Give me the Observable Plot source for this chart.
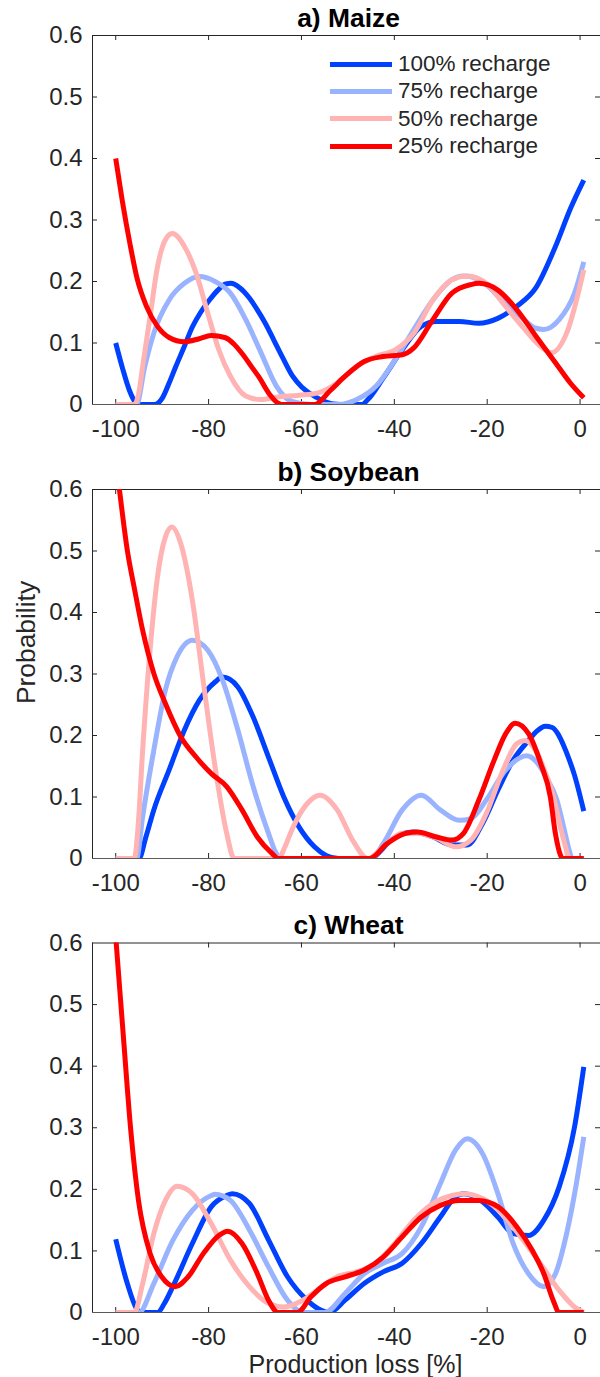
<!DOCTYPE html>
<html>
<head>
<meta charset="utf-8">
<script src="https://cdn.jsdelivr.net/npm/d3@7"></script>
<script src="https://cdn.jsdelivr.net/npm/@observablehq/plot@0.6"></script>
<style>
  body { margin: 0; background: #fff; }
  #wrap { position: relative; width: 600px; height: 1377px; overflow: hidden; background: #fff;
          font-family: "Liberation Sans", Arial, Helvetica, sans-serif; color: #262626; }
  .panel { position: absolute; left: 0; }
  .panel svg { display: block; }
  #legend { position: absolute; left: 330px; top: 50.5px; }
  #legend .row { height: 27.3px; display: flex; align-items: center; font-size: 22.5px; white-space: nowrap; }
  #legend .sw { display: inline-block; width: 62px; height: 5px; margin-right: 6px; }
</style>
</head>
<body>
<div id="wrap"></div>
<script>
// ---------- data ----------
const crops = ["a) Maize", "b) Soybean", "c) Wheat"];
const seriesNames = ["100% recharge", "75% recharge", "50% recharge", "25% recharge"];
const xTicks = [-100, -80, -60, -40, -20, 0];
const xTickLabels = ["-100", "-80", "-60", "-40", "-20", "0"];
const yTicks = [0, 0.1, 0.2, 0.3, 0.4, 0.5, 0.6];
const yTickLabels = ["0", "0.1", "0.2", "0.3", "0.4", "0.5", "0.6"];
const xLabel = "Production loss [%]";
const yLabel = "Probability";

// [production loss %, probability]
const maize100 = [[-100,0.10],[-98.5,0.058],[-97,0.022],[-95.8,0.004],[-95,0],[-91.7,0],[-90,0.01],[-88.5,0.035],[-87.1,0.061],[-85.3,0.093],[-83.5,0.126],[-81.7,0.15],[-79.9,0.169],[-78,0.186],[-76.3,0.196],[-75.2,0.197],[-73.3,0.19],[-71.3,0.174],[-69.5,0.154],[-67.7,0.131],[-65.9,0.104],[-64.1,0.077],[-61.9,0.046],[-60,0.029],[-58,0.017],[-55.6,0.007],[-53,0.001],[-50,0],[-47,0],[-45.7,0.008],[-42.4,0.043],[-38.3,0.089],[-34.2,0.127],[-30.9,0.135],[-26,0.135],[-21.8,0.132],[-17.7,0.14],[-13.6,0.16],[-9.5,0.19],[-5.3,0.257],[-2,0.32],[0.8,0.365]];
const maize75 = [[-100,0],[-95.5,0],[-93.8,0.06],[-91.8,0.116],[-88.5,0.17],[-85.2,0.197],[-82,0.208],[-78.6,0.2],[-75.3,0.181],[-72,0.138],[-68.7,0.084],[-65.4,0.03],[-62.1,0.005],[-58,0],[-52,0],[-48.1,0.008],[-43.9,0.03],[-39.8,0.073],[-35.8,0.122],[-31.7,0.17],[-27.6,0.203],[-25.1,0.209],[-21,0.2],[-16.9,0.17],[-12.8,0.143],[-9.5,0.124],[-7.8,0.122],[-4.5,0.138],[-1.2,0.181],[0.8,0.232]];
const maize50 = [[-100,0],[-96,0],[-95,0.02],[-94.2,0.062],[-92.6,0.143],[-91,0.224],[-89.3,0.268],[-87.8,0.278],[-85.2,0.257],[-82.7,0.214],[-80.2,0.149],[-77.8,0.089],[-75.3,0.046],[-72,0.014],[-68.7,0.008],[-65.4,0.012],[-60.5,0.015],[-56.4,0.019],[-52.3,0.035],[-48.1,0.062],[-44,0.078],[-39.8,0.089],[-35.8,0.116],[-31.7,0.17],[-27.6,0.203],[-24.3,0.209],[-20.2,0.197],[-16,0.159],[-11.9,0.122],[-8.6,0.095],[-6.2,0.084],[-2.9,0.116],[0.8,0.219]];
const maize25 = [[-100,0.4],[-98.6,0.332],[-96.9,0.26],[-95.4,0.205],[-93.4,0.16],[-91,0.127],[-88.5,0.109],[-85.2,0.102],[-82,0.107],[-79.5,0.112],[-76.5,0.109],[-74.5,0.098],[-72.7,0.082],[-70.8,0.062],[-69.1,0.044],[-66.8,0.016],[-65,0.002],[-64.2,0],[-57.2,0],[-53.9,0.022],[-50.6,0.046],[-46.5,0.07],[-42.4,0.078],[-38.3,0.081],[-35.8,0.092],[-31.7,0.138],[-27.6,0.181],[-23.5,0.195],[-21.8,0.197],[-17.7,0.186],[-13.6,0.154],[-9.5,0.111],[-5.3,0.068],[-2.1,0.035],[0.8,0.011]];

const soy100 = [[-100,0],[-95,0],[-93.5,0.035],[-91.8,0.079],[-88.5,0.144],[-85.2,0.209],[-82,0.257],[-78.6,0.287],[-77,0.295],[-73.7,0.279],[-70.4,0.23],[-67.1,0.165],[-63.8,0.1],[-60.5,0.051],[-57.2,0.019],[-54.7,0.005],[-52,0],[-45,0],[-43,0.012],[-40.7,0.03],[-35.8,0.043],[-31.7,0.035],[-27.6,0.022],[-24.3,0.022],[-21,0.057],[-17.7,0.111],[-14.4,0.16],[-11.1,0.192],[-9.3,0.207],[-7.5,0.215],[-6,0.213],[-4.8,0.203],[-3.5,0.183],[-2.3,0.16],[-1.3,0.138],[0.8,0.077]];
const soy75 = [[-100,0],[-95.5,0],[-94.2,0.068],[-91.8,0.176],[-89.3,0.274],[-86.8,0.328],[-83.5,0.355],[-80.2,0.339],[-77,0.29],[-73.7,0.209],[-70.4,0.117],[-67.1,0.041],[-65.4,0.008],[-64,0],[-45,0],[-42.4,0.024],[-38.3,0.079],[-34.2,0.103],[-30.1,0.079],[-26,0.062],[-23.5,0.065],[-20.2,0.095],[-16,0.144],[-11.5,0.167],[-9.5,0.158],[-7.5,0.135],[-5,0.095],[-3.5,0.05],[-2.3,0.012],[-1.7,0],[0.8,0]];
const soy50 = [[-100,0],[-96,0],[-95.2,0.05],[-94.2,0.176],[-92.6,0.339],[-91,0.458],[-89.3,0.523],[-87.9,0.539],[-86,0.512],[-83.5,0.42],[-81.1,0.285],[-78.6,0.149],[-76.1,0.041],[-74.5,0],[-65,0],[-63.5,0.02],[-62.1,0.046],[-58.8,0.089],[-56,0.103],[-52.3,0.079],[-49,0.03],[-45.7,0],[-42.4,0.019],[-38.3,0.041],[-35,0.041],[-30.9,0.033],[-26.8,0.019],[-23.5,0.03],[-20.2,0.073],[-16.9,0.138],[-13.6,0.187],[-11.9,0.192],[-9.5,0.175],[-7.5,0.14],[-5.7,0.1],[-4.2,0.05],[-3.1,0.018],[-2.4,0],[0.8,0]];
const soy25 = [[-100,0.65],[-99.2,0.6],[-97.5,0.501],[-95.9,0.436],[-94.2,0.371],[-91.8,0.301],[-89.3,0.252],[-86,0.198],[-82.7,0.165],[-79.4,0.138],[-76.1,0.117],[-72.8,0.079],[-69.5,0.035],[-66.3,0.008],[-65,0],[-45.3,0],[-41.6,0.024],[-37.5,0.041],[-35,0.043],[-30.9,0.035],[-27.6,0.03],[-25.1,0.041],[-21.8,0.095],[-18.5,0.16],[-16,0.203],[-14,0.22],[-11.1,0.203],[-8.5,0.155],[-6.4,0.1],[-5.3,0.04],[-4.2,0.005],[-3.8,0],[0.8,0]];

const wheat100 = [[-100,0.119],[-97.5,0.047],[-95.5,0.006],[-94.5,0],[-91,0],[-89.5,0.015],[-87.7,0.042],[-83.5,0.112],[-79.4,0.172],[-76.1,0.19],[-74.9,0.193],[-71.2,0.177],[-67.1,0.118],[-63,0.058],[-58.8,0.02],[-56.4,0.006],[-54,0],[-50.6,0.02],[-46.5,0.047],[-42.4,0.066],[-38.3,0.08],[-34.2,0.112],[-30.1,0.155],[-26.8,0.188],[-25.1,0.193],[-21,0.18],[-17.7,0.155],[-14.4,0.128],[-11.1,0.125],[-7.8,0.15],[-4.5,0.204],[-1.2,0.301],[0.8,0.399]];
const wheat75 = [[-100,0],[-95,0],[-91.8,0.047],[-87.7,0.117],[-83.5,0.166],[-79.4,0.19],[-78.6,0.192],[-75.3,0.182],[-71.2,0.134],[-67.1,0.074],[-63,0.02],[-59.7,0],[-55,0],[-50.6,0.031],[-46.5,0.063],[-42.4,0.08],[-38.3,0.096],[-34.2,0.139],[-30.1,0.209],[-26.8,0.264],[-24.3,0.282],[-21,0.258],[-17.7,0.193],[-14.4,0.112],[-11.1,0.063],[-7.8,0.042],[-5.3,0.063],[-2.9,0.128],[-0.8,0.209],[0.8,0.285]];
const wheat50 = [[-100,0],[-96,0],[-94.2,0.047],[-91.8,0.128],[-89.3,0.182],[-86.8,0.205],[-83.5,0.193],[-79.4,0.144],[-75.3,0.085],[-71.2,0.042],[-67.1,0.015],[-63.8,0.009],[-59.7,0.02],[-55.6,0.042],[-52.3,0.058],[-48.1,0.066],[-44,0.08],[-39.9,0.112],[-35.8,0.15],[-31.7,0.177],[-27.6,0.19],[-25.1,0.193],[-21,0.185],[-16.9,0.161],[-12.8,0.123],[-8.6,0.08],[-4.5,0.036],[-1.2,0.009],[0.8,0]];
const wheat25 = [[-100,0.61],[-98.4,0.453],[-96.7,0.291],[-95.1,0.182],[-92.6,0.096],[-90.1,0.058],[-87.2,0.042],[-84.4,0.058],[-81.1,0.096],[-77.8,0.125],[-75.9,0.132],[-72.8,0.112],[-69.5,0.063],[-67.1,0.02],[-65,0],[-60.9,0],[-58,0.025],[-54.7,0.047],[-50.6,0.058],[-46.5,0.069],[-42.4,0.09],[-38.3,0.123],[-34.2,0.155],[-30.1,0.174],[-26,0.182],[-21.8,0.182],[-17.7,0.172],[-13.6,0.139],[-10.3,0.101],[-7.8,0.063],[-5.8,0.02],[-4.5,0],[0.8,0]];

// ---------- styles ----------
const seriesColors = ["#0040ff", "#99b3ff", "#ffb3b3", "#ff0000"];
const axisColor = "#262626";
const panelSeries = [
  [maize100, maize75, maize50, maize25],
  [soy100, soy75, soy50, soy25],
  [wheat100, wheat75, wheat50, wheat25]
];
const panelLayout = [
  {top: 0,   height: 454, marginTop: 35,   marginBottom: 50},
  {top: 454, height: 454, marginTop: 35,   marginBottom: 50},
  {top: 908, height: 469, marginTop: 34.5, marginBottom: 65}
];

const xDomain = [-105, 4.4];
const yDomain = [0, 0.6];
const W = 600, ML = 92, MR = 0;
const pxPerX = (W - ML - MR) / (xDomain[1] - xDomain[0]);
const tickPx = 5;

const wrap = document.getElementById("wrap");

panelLayout.forEach((lay, p) => {
  const innerH = lay.height - lay.marginTop - lay.marginBottom;
  const tLenX = tickPx / pxPerX;
  const tLenY = tickPx * (yDomain[1] - yDomain[0]) / innerH;
  const innerYTicks = yTicks.filter(v => v > yDomain[0] && v < yDomain[1]);

  const marks = [
    // frame: left, top
    Plot.ruleX([xDomain[0]], {stroke: axisColor, strokeWidth: 1}),
    Plot.ruleY([yDomain[1]], {stroke: axisColor, strokeWidth: 1}),
    // inward tick marks (MATLAB style)
    Plot.ruleX(xTicks, {x: d => d, y1: yDomain[0], y2: yDomain[0] + tLenY, stroke: axisColor}),
    Plot.ruleX(xTicks, {x: d => d, y1: yDomain[1] - tLenY, y2: yDomain[1], stroke: axisColor}),
    Plot.ruleY(innerYTicks, {y: d => d, x1: xDomain[0], x2: xDomain[0] + tLenX, stroke: axisColor}),
    Plot.ruleY(innerYTicks, {y: d => d, x1: xDomain[1] - tLenX, x2: xDomain[1], stroke: axisColor}),
    Plot.axisX(xTicks, {tickSize: 0, tickPadding: 15.5, tickFormat: (d) => xTickLabels[xTicks.indexOf(d)],
                        fontSize: 24, fill: axisColor, label: null}),
    Plot.axisY(yTicks, {tickSize: 0, tickPadding: 10, tickFormat: (d) => yTickLabels[yTicks.indexOf(d)],
                        fontSize: 24, fill: axisColor, label: null}),
  ];
  // density curves, drawn 100% -> 25% so red ends on top
  panelSeries[p].forEach((s, k) => {
    marks.push(Plot.line(s, {x: d => d[0], y: d => d[1], stroke: seriesColors[k], strokeWidth: 5,
      curve: "monotone-x", strokeLinejoin: "round", strokeLinecap: "butt", clip: true}));
  });
  marks.push(Plot.ruleY([yDomain[0]], {stroke: "#5a5a5a", strokeWidth: 1}));
  // panel title
  marks.push(Plot.text([crops[p]], {text: d => d, frameAnchor: "top", dy: -17, dx: 2, lineAnchor: "middle",
    fontSize: 26.4, fontWeight: "bold", fill: "#000"}));
  if (p === 1) {
    marks.push(Plot.text([yLabel], {text: d => d, frameAnchor: "left", rotate: -90, dx: -66, dy: -31.5,
      textAnchor: "middle", lineAnchor: "middle", fontSize: 26.4, fill: axisColor}));
  }
  if (p === 2) {
    marks.push(Plot.text([xLabel], {text: d => d, frameAnchor: "bottom", dy: 52, dx: 9,
      textAnchor: "middle", lineAnchor: "middle", fontSize: 25, fill: axisColor}));
  }

  const chart = Plot.plot({
    width: W, height: lay.height,
    marginTop: lay.marginTop, marginBottom: lay.marginBottom, marginLeft: ML, marginRight: MR,
    x: {domain: xDomain, label: null},
    y: {domain: yDomain, label: null},
    style: {fontFamily: '"Liberation Sans", Arial, Helvetica, sans-serif', fontSize: "24px", background: "transparent", color: axisColor, overflow: "visible"},
    marks
  });
  const div = document.createElement("div");
  div.className = "panel";
  div.style.top = lay.top + "px";
  div.appendChild(chart);
  wrap.appendChild(div);
});

// legend (panel a, upper right)
const legend = document.createElement("div");
legend.id = "legend";
seriesNames.forEach((name, k) => {
  const row = document.createElement("div");
  row.className = "row";
  const sw = document.createElement("span");
  sw.className = "sw";
  sw.style.background = seriesColors[k];
  const t = document.createElement("span");
  t.textContent = name;
  row.appendChild(sw);
  row.appendChild(t);
  legend.appendChild(row);
});
wrap.appendChild(legend);
</script>
</body>
</html>
